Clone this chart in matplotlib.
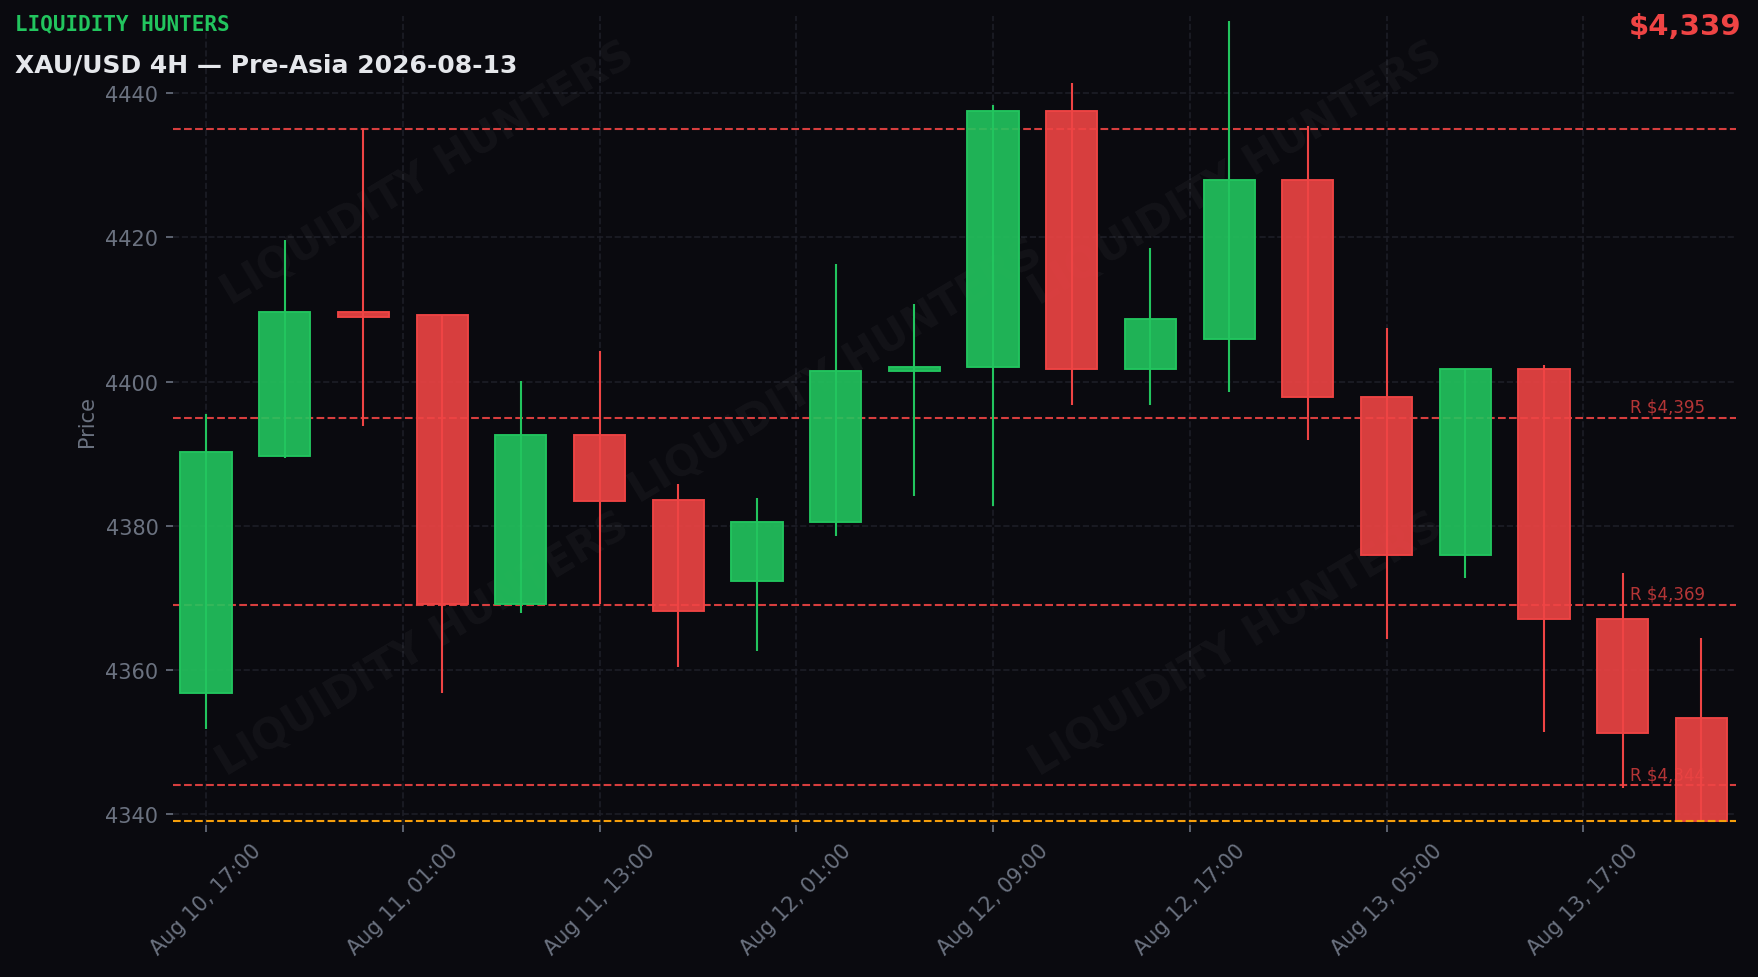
import numpy as np
import matplotlib
matplotlib.use("Agg")
import matplotlib.pyplot as plt
from matplotlib.colors import to_rgba

# 4H candles
opens = [4356.8, 4389.7, 4409.6, 4409.2, 4369.1, 4392.6, 4383.6, 4372.4, 4380.5, 4401.4,
         4402.0, 4437.5, 4401.7, 4405.9, 4427.9, 4397.9, 4376.0, 4401.8, 4367.1, 4353.4]
highs = [4395.5, 4419.6, 4435.2, 4409.2, 4400.1, 4404.3, 4385.8, 4383.8, 4416.3, 4410.7,
         4438.3, 4441.4, 4418.5, 4450.0, 4435.5, 4407.4, 4401.8, 4402.3, 4373.5, 4364.5]
lows = [4351.8, 4389.4, 4393.9, 4356.8, 4367.9, 4369.1, 4360.4, 4362.7, 4378.6, 4384.2,
        4382.7, 4396.7, 4396.7, 4398.6, 4391.9, 4364.3, 4372.7, 4351.4, 4343.7, 4339.0]
closes = [4390.3, 4409.6, 4409.0, 4369.1, 4392.6, 4383.5, 4368.2, 4380.5, 4401.4, 4402.0,
          4437.5, 4401.7, 4408.7, 4427.9, 4397.8, 4376.0, 4401.8, 4367.1, 4351.2, 4339.0]

tick_labels = ["Aug 10, 17:00", "Aug 11, 01:00", "Aug 11, 13:00", "Aug 12, 01:00",
               "Aug 12, 09:00", "Aug 12, 17:00", "Aug 13, 05:00", "Aug 13, 17:00"]

levels = [4435, 4395, 4369, 4344]
level_labels = ["", "R $4,395", "R $4,369", "R $4,344"]
current_price = 4339

BG = "#0a0a0f"
GREEN = "#22c55e"
RED = "#ef4444"
ORANGE = "#f59e0b"
GRAY = "#6b7280"
GRID = "#1d1e27"

fig = plt.figure(figsize=(1758 / 150, 978 / 150), dpi=150, facecolor=BG)
ax = fig.add_axes([0.0984, 0.1554, 0.8891, 0.8272])
ax.set_facecolor(BG)

x = np.arange(len(opens))
o = np.array(opens)
c = np.array(closes)
up = c >= o
edge = [GREEN if u else RED for u in up]
fill = [to_rgba(GREEN if u else RED, 0.9) for u in up]

# wicks then bodies
ax.vlines(x, lows, highs, colors=edge, linewidth=1.0, zorder=3)
ax.bar(x, np.abs(c - o), bottom=np.minimum(o, c), width=0.65,
       color=fill, edgecolor=edge, linewidth=0.9, zorder=4)

# levels
for lv, lab in zip(levels, level_labels):
    ax.axhline(lv, color=RED, linestyle="--", linewidth=1.0, alpha=0.9, zorder=2)
    if lab:
        ax.text(0.932, lv + 0.3, lab, transform=ax.get_yaxis_transform(),
                color=RED, alpha=0.75, fontsize=8, va="bottom", ha="left", zorder=5)
ax.axhline(current_price, color=ORANGE, linestyle="--", linewidth=1.0, zorder=5)

# watermark
for fx, fy in [(0.163, 0.806), (0.68, 0.806), (0.424, 0.562), (0.16, 0.224), (0.68, 0.224)]:
    ax.text(fx, fy, "LIQUIDITY HUNTERS", transform=ax.transAxes, rotation=31,
            fontsize=20, fontweight="bold", color="white", alpha=0.04,
            ha="center", va="center", zorder=1)

ax.set_xlim(-0.42, 19.44)
ax.set_ylim(4338.5, 4450.7)
ax.set_xticks(np.arange(0, 20, 2.5))
ax.set_xticklabels(tick_labels, rotation=45)
ax.set_yticks(np.arange(4340, 4441, 20))

ax.grid(True, color=GRID, linestyle="--", linewidth=0.8, zorder=0)
ax.set_axisbelow(True)
for s in ax.spines.values():
    s.set_visible(False)
ax.tick_params(colors=GRAY, labelsize=10, length=3.5, width=0.8)
ax.set_ylabel("Price", color=GRAY, fontsize=10)

fig.text(0.0083, 0.975, "LIQUIDITY HUNTERS", color=GREEN, fontsize=10,
         fontweight="bold", family="DejaVu Sans Mono", va="center", ha="left")
fig.text(0.0083, 0.933, "XAU/USD 4H \u2014 Pre-Asia 2026-08-13", color="#e5e7eb",
         fontsize=12, fontweight="bold", va="center", ha="left")
fig.text(0.9905, 0.972, f"${current_price:,}", color=RED, fontsize=14,
         fontweight="bold", va="center", ha="right")

fig.savefig("out.png", dpi=150, facecolor=BG)
